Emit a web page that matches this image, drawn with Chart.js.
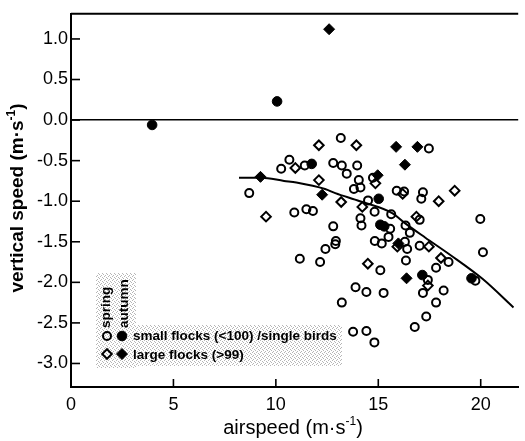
<!DOCTYPE html>
<html><head><meta charset="utf-8">
<script src="https://cdn.jsdelivr.net/npm/chart.js@4/dist/chart.umd.min.js"></script>
<style>html,body{margin:0;padding:0;background:#fff;}#wrap{width:525px;height:441px;}</style>
</head><body><div id="wrap"><canvas id="c" width="525" height="441"></canvas></div>
<script>
// ---- data ----
const springSmallX = [13.17,10.66,10.26,11.41,12.80,13.22,13.46,13.97,8.70,14.05,13.81,14.13,10.90,11.49,11.81,12.80,14.13,14.18,12.93,17.47,14.74,15.90,16.26,17.18,17.10,19.98,14.50,14.82,15.63,17.02,16.33,15.58,15.50,16.54,14.83,15.17,16.30,16.41,17.02,20.11,18.43,17.82,15.10,16.35,17.42,19.74,18.19,17.18,14.42,15.26,17.82,17.34,16.78,14.42,14.81,13.77,12.42,12.90,11.17,12.16,13.89,13.22];
const springSmallY = [-0.22,-0.49,-0.60,-0.56,-0.53,-0.56,-0.66,-0.56,-0.90,-0.74,-0.85,-0.83,-1.14,-1.10,-1.12,-1.31,-1.21,-1.30,-1.49,-0.35,-0.71,-0.87,-0.88,-0.89,-0.97,-1.22,-0.99,-1.13,-1.16,-1.23,-1.30,-1.34,-1.44,-1.39,-1.49,-1.52,-1.50,-1.59,-1.55,-1.63,-1.75,-1.82,-1.85,-1.73,-1.97,-1.98,-2.10,-2.13,-2.12,-2.13,-2.25,-2.42,-2.55,-2.60,-2.74,-2.61,-1.59,-1.53,-1.71,-1.75,-2.06,-2.25];
const autumnSmallX = [3.96,10.06,11.75,15.02,15.10,15.29,17.15,19.55];
const autumnSmallY = [-0.06,0.23,-0.54,-0.97,-1.29,-1.31,-1.91,-1.95];
const springLargeX = [12.10,13.93,10.95,12.10,13.19,9.52,14.86,16.19,17.95,18.73,16.86,14.22,15.93,17.47,18.06,14.49,17.42];
const springLargeY = [-0.31,-0.31,-0.59,-0.74,-1.01,-1.19,-0.78,-0.91,-1.00,-0.87,-1.19,-1.07,-1.56,-1.56,-1.70,-1.77,-2.04];
const autumnLargeX = [12.60,9.25,12.26,15.87,16.91,16.30,14.97,15.98,16.38];
const autumnLargeY = [1.12,-0.70,-0.92,-0.33,-0.33,-0.55,-0.68,-1.52,-1.95];
const curveX = [8.2,9.3,10.4,11.0,12.4,12.9,14.1,15.7,16.3,17.3,18.5,20.1,21.6];
const curveY = [-0.71,-0.71,-0.75,-0.77,-0.85,-0.90,-1.00,-1.15,-1.27,-1.45,-1.66,-1.96,-2.31];
const xTicks = [0,5,10,15,20];
const yTicks = [1.0,0.5,0.0,-0.5,-1.0,-1.5,-2.0,-2.5,-3.0];
const xTitle = ['airspeed (m·s','-1',')'];
const yTitle = ['vertical speed (m·s','-1',')'];
const legendSeasons = ['spring','autumn'];
const legendGroups = ['small flocks (<100) /single birds','large flocks (>99)'];

const pts = (xs, ys) => xs.map((x, i) => ({x, y: ys[i]}));
const FAM = '"Liberation Sans", Arial, sans-serif';

function drawTitle(ctx, parts, cx, cy, rot, size, weight) {
  ctx.save();
  ctx.translate(cx, cy);
  ctx.rotate(rot);
  const main = weight + ' ' + size + 'px ' + FAM;
  const sup = weight + ' ' + Math.round(size * 0.62) + 'px ' + FAM;
  ctx.font = main; const w0 = ctx.measureText(parts[0]).width; const w2 = ctx.measureText(parts[2]).width;
  ctx.font = sup; const w1 = ctx.measureText(parts[1]).width;
  let x = -(w0 + w1 + w2) / 2;
  ctx.fillStyle = '#000'; ctx.textBaseline = 'middle'; ctx.textAlign = 'left';
  ctx.font = main; ctx.fillText(parts[0], x, 0); x += w0;
  ctx.font = sup; ctx.fillText(parts[1], x, -size * 0.3); x += w1;
  ctx.font = main; ctx.fillText(parts[2], x, 0);
  ctx.restore();
}

function marker(ctx, type, filled, x, y) {
  ctx.beginPath();
  if (type === 'circle') { ctx.arc(x, y, filled ? 4.8 : 4, 0, Math.PI * 2); }
  else { const r = filled ? 5.5 : 4.8; ctx.moveTo(x - r, y); ctx.lineTo(x, y - r); ctx.lineTo(x + r, y); ctx.lineTo(x, y + r); ctx.closePath(); }
  ctx.lineWidth = 2; ctx.strokeStyle = '#000';
  if (filled) { ctx.fillStyle = '#000'; ctx.fill(); ctx.lineWidth = 1; }
  ctx.stroke();
}

const decor = {
  id: 'decor',
  afterDraw(chart) {
    const ctx = chart.ctx, a = chart.chartArea, xs = chart.scales.x, ys = chart.scales.y;
    ctx.save();
    ctx.strokeStyle = '#000'; ctx.lineWidth = 2;
    ctx.beginPath(); ctx.moveTo(a.left, a.top); ctx.lineTo(a.right, a.top); ctx.stroke();
    ctx.lineWidth = 1.6;
    yTicks.forEach(v => { const p = ys.getPixelForValue(v); ctx.beginPath(); ctx.moveTo(a.left, p); ctx.lineTo(a.left + 9, p); ctx.stroke(); });
    xTicks.forEach(v => { const p = xs.getPixelForValue(v); ctx.beginPath(); ctx.moveTo(p, a.bottom); ctx.lineTo(p, a.bottom - 8); ctx.stroke(); });
    // legend stipple
    const pc = document.createElement('canvas'); pc.width = 4; pc.height = 4;
    const pctx = pc.getContext('2d'); pctx.fillStyle = 'rgba(110,110,110,0.5)';
    pctx.fillRect(0, 0, 1, 1); pctx.fillRect(2, 1, 1, 1); pctx.fillRect(1, 3, 1, 1); pctx.fillRect(3, 2, 1, 1);
    ctx.fillStyle = ctx.createPattern(pc, 'repeat');
    ctx.fillRect(96, 273, 40, 95);
    ctx.fillRect(136, 325, 206, 41);
    // legend markers
    marker(ctx, 'circle', false, 107, 336); marker(ctx, 'circle', true, 122, 336);
    marker(ctx, 'diamond', false, 107, 354); marker(ctx, 'diamond', true, 122, 354);
    ctx.fillStyle = '#000';
    ctx.font = 'bold 13.5px ' + FAM;
    ctx.textBaseline = 'middle'; ctx.textAlign = 'left';
    ctx.fillText(legendGroups[0], 133, 336);
    ctx.fillText(legendGroups[1], 133, 355);
    [[legendSeasons[0], 106], [legendSeasons[1], 124]].forEach(([t, x]) => {
      ctx.save(); ctx.translate(x, 328); ctx.rotate(-Math.PI / 2); ctx.fillText(t, 0, 0); ctx.restore();
    });
    drawTitle(ctx, xTitle, 293, 428, 0, 20, 'normal');
    drawTitle(ctx, yTitle, 17.5, 198, -Math.PI / 2, 19, 'bold');
    ctx.restore();
  }
};

new Chart(document.getElementById('c'), {
  type: 'scatter',
  data: {
    datasets: [
      {data: pts(curveX, curveY), showLine: true, tension: 0.4, cubicInterpolationMode: 'monotone', borderColor: '#000', borderWidth: 2, pointRadius: 0, fill: false},
      {data: pts(springSmallX, springSmallY), pointStyle: 'circle', pointRadius: 4, borderWidth: 2, borderColor: '#000', backgroundColor: 'rgba(255,255,255,0)'},
      {data: pts(autumnSmallX, autumnSmallY), pointStyle: 'circle', pointRadius: 4.8, borderWidth: 1, borderColor: '#000', backgroundColor: '#000'},
      {data: pts(springLargeX, springLargeY), pointStyle: 'rectRot', pointRadius: 4.8, borderWidth: 2, borderColor: '#000', backgroundColor: 'rgba(255,255,255,0)'},
      {data: pts(autumnLargeX, autumnLargeY), pointStyle: 'rectRot', pointRadius: 5.5, borderWidth: 1, borderColor: '#000', backgroundColor: '#000'}
    ]
  },
  options: {
    responsive: false, animation: false, devicePixelRatio: 1,
    layout: {padding: {top: 6, right: 0, left: 0, bottom: 0}},
    plugins: {legend: {display: false}, tooltip: {enabled: false}},
    scales: {
      x: {
        type: 'linear', min: 0, max: 21.83,
        afterFit(s) { s.height = 54; },
        afterBuildTicks(s) { s.ticks = xTicks.map(v => ({value: v})); },
        grid: {display: false, drawTicks: false},
        border: {display: true, color: '#000', width: 2},
        ticks: {color: '#000', padding: 7, font: {size: 18, family: FAM}, maxRotation: 0, autoSkip: false, callback: v => String(v)}
      },
      y: {
        type: 'linear', min: -3.29, max: 1.31,
        afterFit(s) { s.width = 71; },
        afterBuildTicks(s) { s.ticks = yTicks.map(v => ({value: v})); },
        grid: {drawTicks: false, color: c => (c.tick && c.tick.value === 0) ? '#000' : 'rgba(0,0,0,0)', lineWidth: 1.6},
        border: {display: true, color: '#000', width: 2},
        ticks: {color: '#000', padding: 3, font: {size: 18, family: FAM}, autoSkip: false, callback: v => v.toFixed(1)}
      }
    }
  },
  plugins: [decor]
});
</script></body></html>
